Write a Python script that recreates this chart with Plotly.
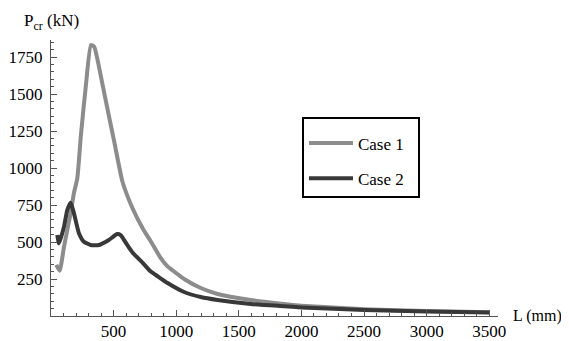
import plotly.graph_objects as go

# Case 1 (light gray)
L1 = [42, 69, 104, 130, 157, 183, 210, 239, 279, 319, 345, 385, 439, 505, 571, 650, 734, 800, 870, 931, 1000, 1063, 1196, 1330, 1595, 1860, 2000, 2500, 3000, 3500]
P1 = [345, 306, 468, 581, 696, 831, 930, 1223, 1561, 1831, 1820, 1676, 1448, 1178, 907, 730, 590, 500, 400, 335, 290, 250, 189, 149, 108, 81, 70, 46, 33, 25]

# Case 2 (dark gray)
L2 = [50, 64, 104, 130, 157, 183, 223, 263, 316, 383, 462, 529, 556, 609, 654, 734, 797, 837, 931, 1063, 1196, 1330, 1595, 1860, 2000, 2500, 3000, 3500]
P2 = [547, 491, 604, 716, 766, 695, 560, 502, 480, 480, 514, 554, 547, 480, 426, 358, 300, 277, 223, 162, 128, 108, 81, 66, 58, 40, 30, 24]

x_ticks = [500, 1000, 1500, 2000, 2500, 3000, 3500]
y_ticks = [250, 500, 750, 1000, 1250, 1500, 1750]

FONT = "Liberation Serif"
AX = "#555555"
PAD = "&nbsp;" * 2

fig = go.Figure()
fig.add_trace(go.Scatter(x=L1, y=P1, mode="lines", name="Case 1" + PAD,
                         line=dict(color="#8c8c8c", width=4, shape="spline", smoothing=0.5),
                         legendgroup="a"))
fig.add_trace(go.Scatter(x=L2, y=P2, mode="lines", name="Case 2" + PAD,
                         line=dict(color="#383838", width=4, shape="spline", smoothing=0.5),
                         legendgroup="b"))

# page body has an 8px margin, so the figure is 8px smaller than the window
fig.update_layout(
    width=561, height=333,
    margin=dict(l=43, r=71, t=32, b=25, autoexpand=False),
    paper_bgcolor="white", plot_bgcolor="white",
    font=dict(family=FONT, size=17, color="black"),
    showlegend=True,
    legend=dict(x=0.5615, y=0.721, xanchor="left", yanchor="top",
                bordercolor="black", borderwidth=2, bgcolor="white",
                font=dict(family=FONT, size=17, color="black"),
                title=dict(text="&nbsp;", font=dict(size=5)),
                itemwidth=44,
                tracegroupgap=10, traceorder="grouped"),
)
fig.update_xaxes(range=[0, 3570], showgrid=False, zeroline=False, automargin=False,
                 showline=True, linecolor=AX, linewidth=1,
                 tickmode="array", tickvals=x_ticks, ticktext=[str(v) for v in x_ticks],
                 ticks="inside", ticklen=6, tickcolor=AX,
                 minor=dict(dtick=100, tick0=0, ticks="inside", ticklen=3, tickcolor=AX),
                 tickfont=dict(family=FONT, size=17))
fig.update_yaxes(range=[0, 1865], showgrid=False, zeroline=False, automargin=False,
                 showline=True, linecolor=AX, linewidth=1,
                 tickmode="array", tickvals=y_ticks, ticktext=[str(v) for v in y_ticks],
                 ticks="inside", ticklen=6, tickcolor=AX,
                 minor=dict(dtick=50, tick0=0, ticks="inside", ticklen=3, tickcolor=AX),
                 tickfont=dict(family=FONT, size=17), ticklabelstandoff=4)

fig.add_annotation(xref="paper", yref="paper", x=-0.065, y=1.114, xanchor="left", yanchor="top",
                   text="P<sub>cr</sub> (kN)", showarrow=False, font=dict(family=FONT, size=17))
fig.add_annotation(xref="paper", yref="paper", x=1.03, y=0.0, xanchor="left", yanchor="middle",
                   text="L (mm)", showarrow=False, font=dict(family=FONT, size=16))

fig.write_html("out.html")
